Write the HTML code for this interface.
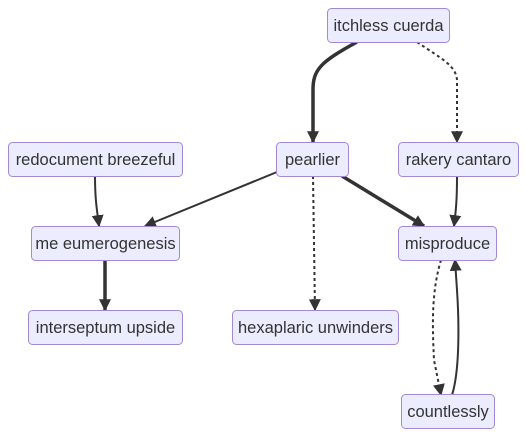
<!DOCTYPE html>
<html><head><style>
html,body{margin:0;padding:0;background:#fff;}
text{font-family:"Liberation Sans",sans-serif;font-size:16.5px;fill:#333;}
</style></head><body>
<svg width="526" height="436" viewBox="0 0 526 436" xmlns="http://www.w3.org/2000/svg">
<defs>
<marker id="b" viewBox="0 0 10 10" refX="9" refY="5" markerWidth="12" markerHeight="12" orient="auto" markerUnits="userSpaceOnUse"><path d="M0,0L10,5L0,10z" fill="#333"/></marker>
</defs>
<g fill="none" stroke="#333">
<path d="M357,42 C320,62 313,70 313,90 L313,142" stroke-width="3.5" marker-end="url(#b)"/>
<path d="M417,42 C440,58 456,65 457,80 L457,142" stroke-width="2" stroke-dasharray="3,3" marker-end="url(#b)"/>
<path d="M95,176 C95,200 97,210 99,226" stroke-width="2" marker-end="url(#b)"/>
<path d="M277,172 L145,226" stroke-width="2" marker-end="url(#b)"/>
<path d="M342,176 L424,226" stroke-width="3.5" marker-end="url(#b)"/>
<path d="M457,176 C457,200 456,210 454,226" stroke-width="2" marker-end="url(#b)"/>
<path d="M313,176 L315,310" stroke-width="2" stroke-dasharray="3,3" marker-end="url(#b)"/>
<path d="M105,260 L105,310" stroke-width="3.5" marker-end="url(#b)"/>
<path d="M441,260 C432,290 432,320 434,360 L441,395" stroke-width="2" stroke-dasharray="3,3" marker-end="url(#b)"/>
<path d="M452,395 C460,370 459,320 457,290 L455,260" stroke-width="2" marker-end="url(#b)"/>
</g>
<g fill="#ececff" stroke="#a08ad8" stroke-width="1">
<rect x="327.5" y="8.5" width="122" height="34" rx="4"/>
<rect x="8.5" y="142.5" width="174" height="34" rx="4"/>
<rect x="276.5" y="142.5" width="72" height="34" rx="4"/>
<rect x="398.5" y="142.5" width="120" height="34" rx="4"/>
<rect x="31.5" y="226.5" width="148" height="34" rx="4"/>
<rect x="398.5" y="226.5" width="98" height="34" rx="4"/>
<rect x="28.5" y="310.5" width="154" height="34" rx="4"/>
<rect x="232.5" y="310.5" width="166" height="34" rx="4"/>
<rect x="401.5" y="394.5" width="93" height="34" rx="4"/>
</g>
<g text-anchor="middle">
<text x="388.5" y="31">itchless cuerda</text>
<text x="95.5" y="165">redocument breezeful</text>
<text x="312.5" y="165">pearlier</text>
<text x="458.5" y="165">rakery cantaro</text>
<text x="105.5" y="249">me eumerogenesis</text>
<text x="447.5" y="249">misproduce</text>
<text x="105.5" y="333">interseptum upside</text>
<text x="315.5" y="333">hexaplaric unwinders</text>
<text x="448" y="417">countlessly</text>
</g>
</svg>
</body></html>
